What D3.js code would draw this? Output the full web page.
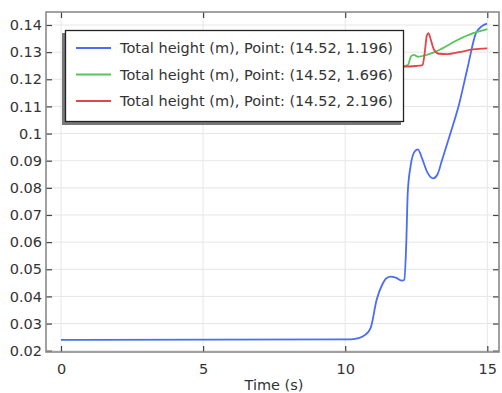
<!DOCTYPE html>
<html>
<head>
<meta charset="utf-8">
<script src="https://cdn.jsdelivr.net/npm/d3@7"></script>
<style>
  body { margin: 0; background: #fff; }
  svg { display: block; font-family: "DejaVu Sans", sans-serif; }
</style>
</head>
<body>
<svg id="chart" width="502" height="393"></svg>
<script>
// values
const blueT = [0, 10.2, 10.5, 10.7, 10.9, 11.1, 11.3, 11.45, 11.6, 11.8, 12.0, 12.08, 12.15, 12.2, 12.3, 12.45, 12.56, 12.7, 12.9, 13.1, 13.25, 13.4, 13.7, 14.0, 14.3, 14.6, 14.8, 14.99]
const blueV = [0.024, 0.0242, 0.0247, 0.0258, 0.0285, 0.0385, 0.0443, 0.0467, 0.0473, 0.0468, 0.0458, 0.0462, 0.060, 0.078, 0.088, 0.0935, 0.0942, 0.091, 0.0855, 0.0835, 0.0850, 0.090, 0.100, 0.1105, 0.124, 0.137, 0.1395, 0.1405]
const greenT = [11.8, 12.0, 12.2, 12.32, 12.42, 12.55, 12.8, 13.1, 13.4, 13.9, 14.5, 15.0]
const greenV = [0.1247, 0.1247, 0.1252, 0.1285, 0.1290, 0.1283, 0.1288, 0.1298, 0.1313, 0.1342, 0.1370, 0.1385]
const redT = [11.8, 12.0, 12.5, 12.72, 12.8, 12.87, 12.93, 13.0, 13.12, 13.3, 13.6, 14.0, 14.5, 15.0]
const redV = [0.1247, 0.1247, 0.1249, 0.1252, 0.1300, 0.1360, 0.1370, 0.1350, 0.1310, 0.1294, 0.1293, 0.1300, 0.1310, 0.1314]

const xTicks = [0, 5, 10, 15]
const yTicks = [0.02, 0.03, 0.04, 0.05, 0.06, 0.07, 0.08, 0.09, 0.1, 0.11, 0.12, 0.13, 0.14]
const legendLabels = [
  'Total height (m), Point: (14.52, 1.196)',
  'Total height (m), Point: (14.52, 1.696)',
  'Total height (m), Point: (14.52, 2.196)'
]
const colors = ['#4b6cf5', '#55c658', '#e2464b']

const frameL = 46, frameR = 499, frameT = 12, frameB = 352
const fontSize = '14.5px'

const x = d3.scaleLinear().domain([0, 15]).range([61, 487.3])
const y = d3.scaleLinear().domain([0.02, 0.14]).range([350.7, 25])

const svg = d3.select('#chart')

// grid
svg.append('g')
  .selectAll('line')
  .data(xTicks)
  .join('line')
  .attr('x1', d => x(d)).attr('x2', d => x(d))
  .attr('y1', frameT).attr('y2', frameB)
  .attr('stroke', '#e6e6e6')
svg.append('g')
  .selectAll('line')
  .data(yTicks)
  .join('line')
  .attr('x1', frameL).attr('x2', frameR)
  .attr('y1', d => y(d)).attr('y2', d => y(d))
  .attr('stroke', '#e6e6e6')

// series
const series = [
  d3.zip(blueT, blueV),
  d3.zip(greenT, greenV),
  d3.zip(redT, redV)
]
const line = d3.line()
  .x(d => x(d[0]))
  .y(d => y(d[1]))
  .curve(d3.curveMonotoneX)

svg.append('g')
  .selectAll('path')
  .data(series)
  .join('path')
  .attr('d', line)
  .attr('fill', 'none')
  .attr('stroke', (d, i) => colors[i])
  .attr('stroke-width', 1.8)

// axes with inward ticks on all four sides
const tl = 6
svg.append('g')
  .attr('transform', `translate(0,${frameB})`)
  .call(d3.axisBottom(x).tickValues(xTicks).tickSizeInner(-tl).tickSizeOuter(0).tickPadding(12))
  .call(g => g.select('.domain').remove())
svg.append('g')
  .attr('transform', `translate(0,${frameT})`)
  .call(d3.axisTop(x).tickValues(xTicks).tickSizeInner(-tl).tickSizeOuter(0).tickFormat(''))
  .call(g => g.select('.domain').remove())
svg.append('g')
  .attr('transform', `translate(${frameL},0)`)
  .call(d3.axisLeft(y).tickValues(yTicks).tickSizeInner(-tl).tickSizeOuter(0).tickPadding(4).tickFormat(d3.format('~g')))
  .call(g => g.select('.domain').remove())
svg.append('g')
  .attr('transform', `translate(${frameR},0)`)
  .call(d3.axisRight(y).tickValues(yTicks).tickSizeInner(-tl).tickSizeOuter(0).tickFormat(''))
  .call(g => g.select('.domain').remove())

svg.selectAll('.tick line').attr('stroke', '#444').attr('stroke-width', 1.2)
svg.selectAll('.tick text').attr('fill', '#333').style('font-size', fontSize).style('font-family', '"DejaVu Sans", sans-serif')

// frame
svg.append('rect')
  .attr('x', frameL).attr('y', frameT)
  .attr('width', frameR - frameL).attr('height', frameB - frameT)
  .attr('fill', 'none')
  .attr('stroke', '#8a8a8a')
  .attr('stroke-width', 1.6)

svg.append('text')
  .attr('x', 274).attr('y', 390)
  .attr('text-anchor', 'middle')
  .attr('fill', '#333')
  .style('font-size', fontSize)
  .text('Time (s)')

// legend
const lg = svg.append('g')
lg.append('rect')
  .attr('x', 62).attr('y', 33).attr('width', 339).attr('height', 92)
  .attr('fill', '#777')
lg.append('rect')
  .attr('x', 65.5).attr('y', 30.5).attr('width', 338).attr('height', 91)
  .attr('fill', '#fff')
  .attr('stroke', '#222')
  .attr('stroke-width', 1.3)
const items = lg.selectAll('g.item')
  .data(legendLabels)
  .join('g')
  .attr('class', 'item')
  .attr('transform', (d, i) => `translate(0,${48 + i * 26.5})`)
items.append('line')
  .attr('x1', 76).attr('x2', 111)
  .attr('stroke', (d, i) => colors[i])
  .attr('stroke-width', 1.8)
items.append('text')
  .attr('x', 120).attr('y', 5)
  .attr('fill', '#333')
  .style('font-size', fontSize)
  .text(d => d)
</script>
</body>
</html>
